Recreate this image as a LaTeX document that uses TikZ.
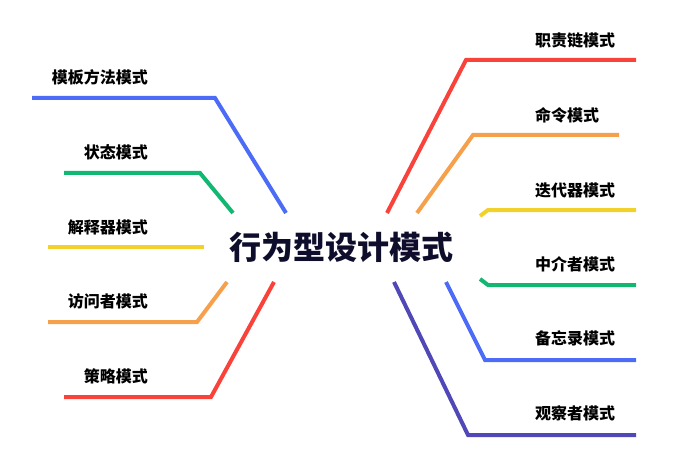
\documentclass[tikz,border=0pt]{standalone}
\usepackage{fontspec}
\newfontfamily\cjk{Noto Sans CJK SC}
\definecolor{cred}{HTML}{F8423A}
\definecolor{corange}{HTML}{F6A04C}
\definecolor{cyellow}{HTML}{F2D22A}
\definecolor{cgreen}{HTML}{12B872}
\definecolor{cblue}{HTML}{4C6CF8}
\definecolor{cindigo}{HTML}{5048B6}
\definecolor{ctext}{HTML}{0E0E2C}
\begin{document}
\begin{tikzpicture}[x=1pt,y=-1pt,
  branch/.style={line width=4pt,line join=miter},
  lbl/.style={font=\cjk\bfseries\fontsize{16}{18}\selectfont,text=black,inner sep=0pt},
  lleft/.style={lbl,anchor=east},
  lright/.style={lbl,anchor=west}]
\useasboundingbox (0,0) rectangle (700,470);
\node[font=\cjk\bfseries\fontsize{32}{36}\selectfont,text=ctext,inner sep=0pt] (root) at (341,247) {行为型设计模式};
% left side
\node[lleft] (l1) at (148,77) {模板方法模式};
\node[lleft] (l2) at (148,152) {状态模式};
\node[lleft] (l3) at (148,227) {解释器模式};
\node[lleft] (l4) at (148,301) {访问者模式};
\node[lleft] (l5) at (148,376) {策略模式};
% right side
\node[lright] (r1) at (535,40) {职责链模式};
\node[lright] (r2) at (535,115) {命令模式};
\node[lright] (r3) at (535,190) {迭代器模式};
\node[lright] (r4) at (535,264) {中介者模式};
\node[lright] (r5) at (535,338) {备忘录模式};
\node[lright] (r6) at (535,413) {观察者模式};
% coordinates
\coordinate (l1a) at (286,213); \coordinate (l1b) at (215,98); \coordinate (l1c) at (32,98);
\coordinate (l2a) at (233,213); \coordinate (l2b) at (200,173); \coordinate (l2c) at (64,173);
\coordinate (l3b) at (204,247); \coordinate (l3c) at (48,247);
\coordinate (l4a) at (227,282); \coordinate (l4b) at (197,322); \coordinate (l4c) at (48,322);
\coordinate (l5a) at (274,282); \coordinate (l5b) at (211,397); \coordinate (l5c) at (64,397);
\coordinate (r1a) at (387,213); \coordinate (r1b) at (466,60); \coordinate (r1c) at (636,60);
\coordinate (r2a) at (417,213); \coordinate (r2b) at (473,135); \coordinate (r2c) at (619,135);
\coordinate (r3a) at (480,216); \coordinate (r3b) at (488,210); \coordinate (r3c) at (636,210);
\coordinate (r4a) at (480,279); \coordinate (r4b) at (488,285); \coordinate (r4c) at (636,285);
\coordinate (r5a) at (446,282); \coordinate (r5b) at (485,360); \coordinate (r5c) at (636,360);
\coordinate (r6a) at (394,282); \coordinate (r6b) at (468,435); \coordinate (r6c) at (636,435);
\draw[branch,cblue] (l1a) -- (l1b) -- (l1c);
\draw[branch,cgreen] (l2a) -- (l2b) -- (l2c);
\draw[branch,cyellow] (l3b) -- (l3c);
\draw[branch,corange] (l4a) -- (l4b) -- (l4c);
\draw[branch,cred] (l5a) -- (l5b) -- (l5c);
\draw[branch,cred] (r1a) -- (r1b) -- (r1c);
\draw[branch,corange] (r2a) -- (r2b) -- (r2c);
\draw[branch,cyellow] (r3a) -- (r3b) -- (r3c);
\draw[branch,cgreen] (r4a) -- (r4b) -- (r4c);
\draw[branch,cblue] (r5a) -- (r5b) -- (r5c);
\draw[branch,cindigo] (r6a) -- (r6b) -- (r6c);
\end{tikzpicture}
\end{document}
